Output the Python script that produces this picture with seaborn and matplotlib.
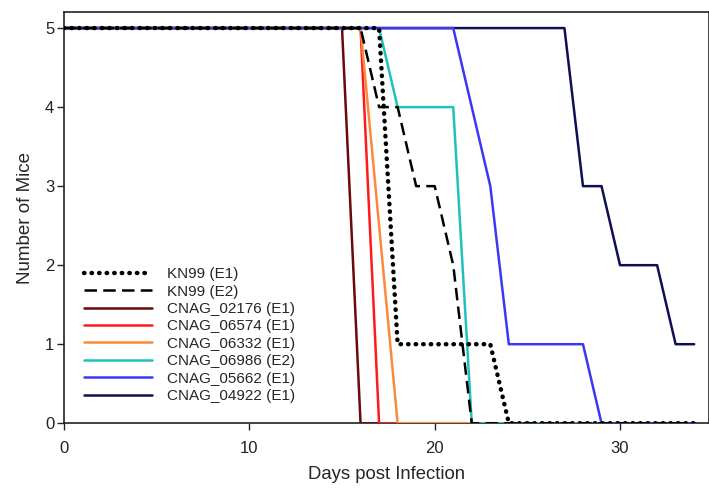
import pandas as pd
import matplotlib
matplotlib.use("Agg")
import matplotlib.pyplot as plt
import seaborn as sns

# survival curves: breakpoints (day, number of mice alive)
kn99_e1_days = [0, 17, 18, 23, 24, 34]
kn99_e1_mice = [5, 5, 1, 1, 0, 0]
kn99_e2_days = [0, 16, 17, 18, 19, 20, 21, 22, 34]
kn99_e2_mice = [5, 5, 4, 4, 3, 3, 2, 0, 0]
cnag_02176_days = [0, 15, 16, 34]
cnag_02176_mice = [5, 5, 0, 0]
cnag_06574_days = [0, 16, 17, 34]
cnag_06574_mice = [5, 5, 0, 0]
cnag_06332_days = [0, 16, 18, 34]
cnag_06332_mice = [5, 5, 0, 0]
cnag_06986_days = [0, 17, 18, 21, 22, 34]
cnag_06986_mice = [5, 5, 4, 4, 0, 0]
cnag_05662_days = [0, 21, 23, 24, 28, 29, 34]
cnag_05662_mice = [5, 5, 3, 1, 1, 0, 0]
cnag_04922_days = [0, 27, 28, 29, 30, 32, 33, 34]
cnag_04922_mice = [5, 5, 3, 3, 2, 2, 1, 1]

labels = ["KN99 (E1)", "KN99 (E2)", "CNAG_02176 (E1)", "CNAG_06574 (E1)",
          "CNAG_06332 (E1)", "CNAG_06986 (E2)", "CNAG_05662 (E1)", "CNAG_04922 (E1)"]
series = [(kn99_e1_days, kn99_e1_mice), (kn99_e2_days, kn99_e2_mice),
          (cnag_02176_days, cnag_02176_mice), (cnag_06574_days, cnag_06574_mice),
          (cnag_06332_days, cnag_06332_mice), (cnag_06986_days, cnag_06986_mice),
          (cnag_05662_days, cnag_05662_mice), (cnag_04922_days, cnag_04922_mice)]

colors = ["black", "black", "#6b0a0a", "#ff1a1a", "#fb8a3c", "#22c0bd", "#3838f5", "#0f0f55"]
styles = [(0, (0.1, 1.6)), (0, (5, 2.5)), "-", "-", "-", "-", "-", "-"]
widths = [3.2, 1.8, 1.8, 1.8, 1.8, 1.8, 1.8, 1.8]
zorders = [10, 9, 3, 3, 3, 3, 3, 2]

frames = []
for lab, (d, m) in zip(labels, series):
    frames.append(pd.DataFrame({"day": d, "mice": m, "strain": lab}))
df = pd.concat(frames, ignore_index=True)

sns.set_style("ticks")
plt.rcParams["font.family"] = ["Liberation Sans", "DejaVu Sans"]

fig = plt.figure(figsize=(7.09, 4.91), dpi=100)
ax = fig.add_axes([0.0903, 0.138, 0.9097, 0.837])

for i, lab in enumerate(labels):
    sub = df[df["strain"] == lab]
    sns.lineplot(data=sub, x="day", y="mice", ax=ax, color=colors[i],
                 linewidth=widths[i], label=lab, sort=False,
                 estimator=None, zorder=zorders[i])
    ln = ax.lines[-1]
    ln.set_linestyle(styles[i])
    if i == 0:
        ln.set_dash_capstyle("round")

ax.set_xlim(0, 34.8)
ax.set_ylim(0, 5.2)
ax.set_xticks([0, 10, 20, 30])
ax.set_yticks([0, 1, 2, 3, 4, 5])
ax.tick_params(labelsize=12, direction="out", length=5, width=1, colors="#222222")
ax.tick_params(axis="x", pad=8)
ax.tick_params(axis="y", pad=2)
ax.set_xlabel("Days post Infection", fontsize=13.3, labelpad=7)
ax.set_ylabel("Number of Mice", fontsize=13.5, labelpad=8)
for s in ax.spines.values():
    s.set_linewidth(1.2)
    s.set_color("#222222")

ax.legend(loc="lower left", bbox_to_anchor=(0.014, 0.0235), frameon=False,
          fontsize=11, handlelength=4.45, handletextpad=1.0,
          labelspacing=0.22, borderaxespad=0.3)

fig.savefig("out.png", dpi=100)
